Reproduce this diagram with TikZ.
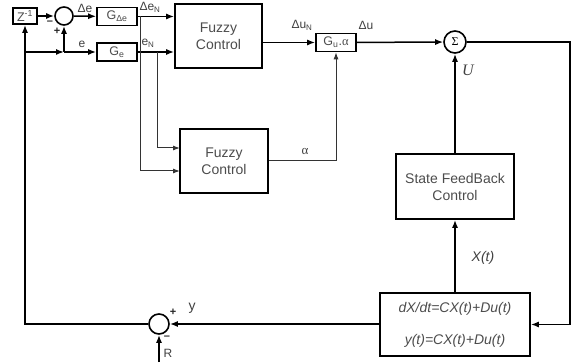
\documentclass[tikz,border=0pt]{standalone}
\usepackage{fontspec}
\setmainfont{Liberation Sans}
\newfontfamily\myserif{Liberation Serif}
\usetikzlibrary{arrows.meta}
\begin{document}
\begin{tikzpicture}[x=1pt,y=-1pt,
  line width=1.5pt,
  >={Latex[length=8pt,width=6pt]},
  blk/.style={draw, line width=1.6pt, inner sep=0pt, align=center, text=black!70, font=\fontsize{14}{17}\selectfont},
  sblk/.style={blk, minimum width=40pt, minimum height=18pt, font=\fontsize{12.5}{14}\selectfont},
  sumc/.style={circle, draw, line width=1.6pt, inner sep=0pt},
  lbl/.style={text=black!75, font=\fontsize{12}{13}\selectfont, inner sep=0pt},
  sgn/.style={text=black!85, font=\bfseries\fontsize{11}{11}\selectfont, inner sep=0pt},
  thinl/.style={line width=1pt, draw=black!80, >={Latex[length=7pt,width=5pt]}}]
\useasboundingbox (0,0) rectangle (573,363);
% blocks
\node[blk, minimum width=24pt, minimum height=16pt, font=\fontsize{12.5}{14}\selectfont] (Z) at (25,16) {Z\textsuperscript{-1}};
\node[sumc, minimum size=18pt] (c1) at (64,16) {};
\node[sblk] (Gde) at (117,16.5) {G\textsubscript{Δe}};
\node[sblk] (Ge) at (117,52) {G\textsubscript{e}};
\node[blk, minimum width=87pt, minimum height=64pt] (FC1) at (218.5,36) {Fuzzy\\Control};
\node[sblk] (Gu) at (336,42.5) {G\textsubscript{u}.{\myserif α}};
\node[sumc, minimum size=22pt, font=\myserif\fontsize{12}{12}\selectfont] (S) at (455,42) {Σ};
\node[blk, minimum width=88pt, minimum height=64pt] (FC2) at (224,161) {Fuzzy\\Control};
\node[blk, minimum width=118pt, minimum height=65pt] (SFB) at (455,186.5) {State FeedBack\\Control};
\node[blk, minimum width=150pt, minimum height=63pt, font=\itshape\fontsize{14}{17}\selectfont] (P) at (455,324.5) {dX/dt=CX(t)+Du(t)\\[15pt]y(t)=CX(t)+Du(t)};
\node[sumc, minimum size=20pt] (c2) at (159,324) {};
% coordinates
\coordinate (rt) at (570,42);
\coordinate (lf) at (25,324);
\coordinate (j1) at (25,52);
\coordinate (j2) at (64,52);
\coordinate (R) at (159,362);
\coordinate (b1) at (140,16.5);
\coordinate (b2) at (157,52);
\coordinate (in1) at (180,148);
\coordinate (in2) at (180,171);
% connectors
\draw[->] (Z) -- (c1);
\draw[->] (c1) -- (Gde);
\draw[->] (Gde.east) -- (Gde.east -| FC1.west);
\draw[->] (Ge.east) -- (Ge.east -| FC1.west);
\draw[->] (FC1.east |- Gu.west) -- (Gu.west);
\draw[->] (Gu) -- (S);
\draw[->] (S.east) -- (rt) |- (P.east);
\draw[->] (P.north) -- (SFB.south);
\draw[->] (SFB.north) -- (S.south);
\draw[->] (P.west |- c2) -- (c2.east);
\draw[->] (c2.west) -- (lf) -- (Z.south);
\draw[->] (j1) -- (j2);
\draw[->] (j2) -- (Ge.west);
\draw[->] (j2) -- (c1.south);
\draw[->] (R) -- (c2.south);
\draw[->, thinl] (b1) |- (in2);
\draw[->, thinl] (b2) |- (in1);
\draw[->, thinl] (FC2.east) -| (Gu.south);
% labels
\node[lbl] (l1) at (85,8) {Δe};
\node[lbl] (l2) at (150,7) {Δe\textsubscript{N}};
\node[lbl] (l3) at (82,44) {e};
\node[lbl] (l4) at (148,43) {e\textsubscript{N}};
\node[lbl] (l5) at (302,25) {Δu\textsubscript{N}};
\node[lbl] (l6) at (366,25) {Δu};
\node[lbl, font=\myserif\fontsize{13}{13}\selectfont] (l7) at (305,152) {α};
\node[lbl, font=\myserif\itshape\fontsize{16}{16}\selectfont] (l8) at (468,70) {U};
\node[lbl, font=\itshape\fontsize{14}{14}\selectfont] (l9) at (483,258) {X(t)};
\node[lbl, font=\fontsize{14}{14}\selectfont] (l10) at (192,308) {y};
\node[sgn] (s1) at (173,312) {+};
\node[sgn] (s2) at (167,338) {–};
\node[lbl] (l11) at (168,353) {R};
\node[sgn] (s3) at (50,23) {–};
\node[sgn] (s4) at (57,31) {+};
\end{tikzpicture}
\end{document}
